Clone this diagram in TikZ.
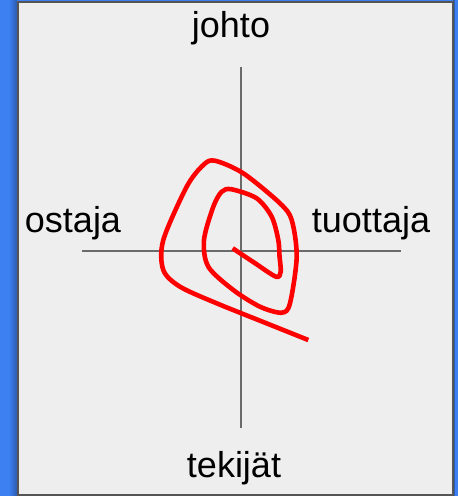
\documentclass[tikz,border=0pt]{standalone}
\usepackage{fontspec}
\setmainfont{Liberation Sans}
\definecolor{deskblue}{HTML}{3C80F1}
\definecolor{shadeblue}{HTML}{2D5BB0}
\definecolor{panelbg}{HTML}{EEEEEE}
\definecolor{frame}{HTML}{555555}
\definecolor{axis}{HTML}{6A6A6A}

\begin{document}
\begin{tikzpicture}[x=1pt,y=-1pt,
  lbl/.style={font=\fontsize{36}{43}\selectfont,inner sep=0pt,anchor=base},
  axisline/.style={draw=axis,line width=1.8pt},
  spiral/.style={draw=red,line width=4.6pt,line join=round}]

\useasboundingbox (0,0) rectangle (458,496);

% desktop and panel
\fill[deskblue] (0,0) rectangle (458,496);
\shade[left color=deskblue,right color=shadeblue] (9,0) rectangle (17,496);
\fill[shadeblue] (453,0) rectangle (455,496);
\draw[frame,fill=panelbg,line width=2pt] (18,2) rectangle (453,495);

% axes
\coordinate (up)    at (241,67);
\coordinate (down)  at (241,428);
\coordinate (west)  at (82,251);
\coordinate (east)  at (401,251);
\draw[axisline] (up) -- (down);
\draw[axisline] (west) -- (east);

\node[lbl] (johto)    at (231,37)  {johto};
\node[lbl] (ostaja)   at (73,232)  {ostaja};
\node[lbl] (tuottaja) at (371,232) {tuottaja};
\node[lbl] (tekijat)  at (234,477) {tekijät};

% the spiral
\draw[spiral] plot[smooth,tension=0.5] coordinates {
  (232.7,248.3) (254,262.5) (276,276.7) (280.7,271.7) (279.5,256) (278.3,240)
  (271.7,216.7) (256.7,198.3) (231.7,189.3) (221.7,191.7) (213.3,206.7)
  (204,240) (208.3,266.7) (233.3,290) (260,306.7) (281.7,312.7) (290,303.3)
  (296.7,256.7) (291.7,220) (280,203.3) (243.3,173.3) (215,160.7)
  (203.3,165) (186.7,186.7) (163.3,240) (163.3,270) (180,286.7)
  (216.7,303.3) (262,321.5) (308.3,340)};
\end{tikzpicture}
\end{document}
